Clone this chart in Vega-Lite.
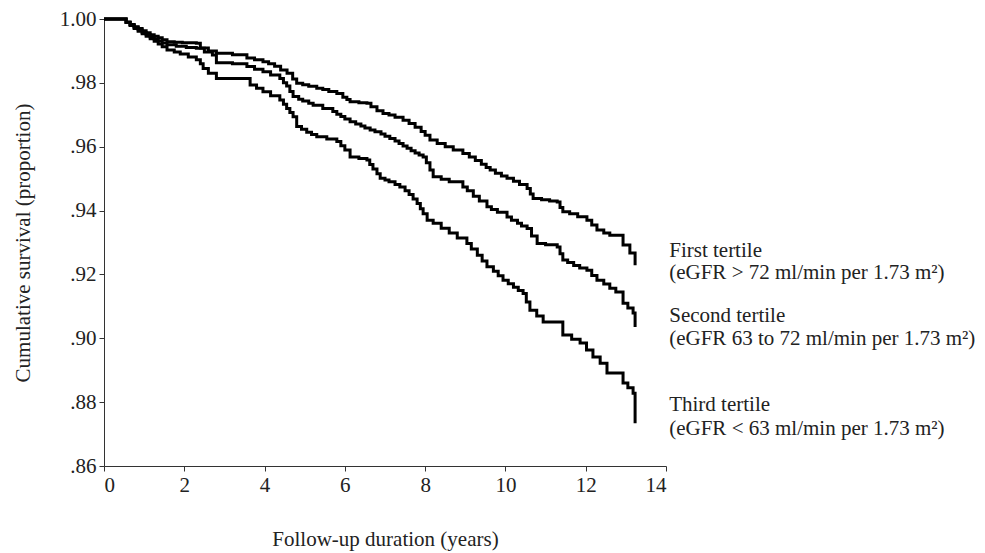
{
  "$schema": "https://vega.github.io/schema/vega-lite/v6.json",
  "autosize": "none",
  "width": 562,
  "height": 447,
  "padding": {"left": 104, "top": 19, "right": 319, "bottom": 87},
  "background": "white",
  "config": {"view": {"stroke": null}, "font": "Liberation Serif"},
  "datasets": {
    "curves": [
      {"t": 0, "s": 1, "g": "First"}, {"t": 0.45, "s": 1, "g": "First"}, {"t": 0.55, "s": 0.999, "g": "First"}, {"t": 0.65, "s": 0.9983, "g": "First"}, {"t": 0.75, "s": 0.9976, "g": "First"}, {"t": 0.85, "s": 0.997, "g": "First"}, {"t": 0.95, "s": 0.9963, "g": "First"}, {"t": 1.05, "s": 0.9957, "g": "First"}, {"t": 1.15, "s": 0.9951, "g": "First"}, {"t": 1.25, "s": 0.9946, "g": "First"}, {"t": 1.35, "s": 0.9941, "g": "First"}, {"t": 1.45, "s": 0.9935, "g": "First"}, {"t": 1.57, "s": 0.9929, "g": "First"}, {"t": 1.75, "s": 0.9927, "g": "First"}, {"t": 1.95, "s": 0.9926, "g": "First"}, {"t": 2.3, "s": 0.9924, "g": "First"}, {"t": 2.4, "s": 0.9909, "g": "First"}, {"t": 2.6, "s": 0.99, "g": "First"}, {"t": 2.8, "s": 0.9893, "g": "First"}, {"t": 3.2, "s": 0.9888, "g": "First"}, {"t": 3.56, "s": 0.9878, "g": "First"}, {"t": 3.75, "s": 0.9872, "g": "First"}, {"t": 3.96, "s": 0.9866, "g": "First"}, {"t": 4.1, "s": 0.986, "g": "First"}, {"t": 4.25, "s": 0.9852, "g": "First"}, {"t": 4.4, "s": 0.984, "g": "First"}, {"t": 4.56, "s": 0.983, "g": "First"}, {"t": 4.7, "s": 0.9812, "g": "First"}, {"t": 4.8, "s": 0.9799, "g": "First"}, {"t": 4.95, "s": 0.9794, "g": "First"}, {"t": 5.1, "s": 0.9789, "g": "First"}, {"t": 5.3, "s": 0.9783, "g": "First"}, {"t": 5.45, "s": 0.9779, "g": "First"}, {"t": 5.6, "s": 0.9773, "g": "First"}, {"t": 5.8, "s": 0.9767, "g": "First"}, {"t": 5.95, "s": 0.9755, "g": "First"}, {"t": 6.05, "s": 0.9748, "g": "First"}, {"t": 6.13, "s": 0.9741, "g": "First"}, {"t": 6.35, "s": 0.9738, "g": "First"}, {"t": 6.55, "s": 0.9736, "g": "First"}, {"t": 6.65, "s": 0.9725, "g": "First"}, {"t": 6.8, "s": 0.9713, "g": "First"}, {"t": 6.95, "s": 0.9704, "g": "First"}, {"t": 7.1, "s": 0.9699, "g": "First"}, {"t": 7.25, "s": 0.9692, "g": "First"}, {"t": 7.45, "s": 0.9683, "g": "First"}, {"t": 7.6, "s": 0.9673, "g": "First"}, {"t": 7.75, "s": 0.9661, "g": "First"}, {"t": 7.9, "s": 0.9648, "g": "First"}, {"t": 8.0, "s": 0.9636, "g": "First"}, {"t": 8.12, "s": 0.9621, "g": "First"}, {"t": 8.3, "s": 0.961, "g": "First"}, {"t": 8.5, "s": 0.96, "g": "First"}, {"t": 8.7, "s": 0.959, "g": "First"}, {"t": 8.94, "s": 0.9579, "g": "First"}, {"t": 9.1, "s": 0.9568, "g": "First"}, {"t": 9.25, "s": 0.9557, "g": "First"}, {"t": 9.4, "s": 0.9545, "g": "First"}, {"t": 9.52, "s": 0.9535, "g": "First"}, {"t": 9.62, "s": 0.9527, "g": "First"}, {"t": 9.75, "s": 0.9517, "g": "First"}, {"t": 9.9, "s": 0.9508, "g": "First"}, {"t": 10.04, "s": 0.9501, "g": "First"}, {"t": 10.2, "s": 0.9492, "g": "First"}, {"t": 10.35, "s": 0.9482, "g": "First"}, {"t": 10.54, "s": 0.9469, "g": "First"}, {"t": 10.62, "s": 0.9452, "g": "First"}, {"t": 10.69, "s": 0.9438, "g": "First"}, {"t": 10.9, "s": 0.9434, "g": "First"}, {"t": 11.1, "s": 0.943, "g": "First"}, {"t": 11.29, "s": 0.9427, "g": "First"}, {"t": 11.36, "s": 0.941, "g": "First"}, {"t": 11.43, "s": 0.9396, "g": "First"}, {"t": 11.6, "s": 0.939, "g": "First"}, {"t": 11.8, "s": 0.9381, "g": "First"}, {"t": 12.03, "s": 0.937, "g": "First"}, {"t": 12.15, "s": 0.9355, "g": "First"}, {"t": 12.28, "s": 0.9339, "g": "First"}, {"t": 12.45, "s": 0.933, "g": "First"}, {"t": 12.6, "s": 0.9323, "g": "First"}, {"t": 12.93, "s": 0.9292, "g": "First"}, {"t": 13.1, "s": 0.9267, "g": "First"}, {"t": 13.23, "s": 0.9229, "g": "First"},
      {"t": 0, "s": 1, "g": "Second"}, {"t": 0.45, "s": 1, "g": "Second"}, {"t": 0.55, "s": 0.999, "g": "Second"}, {"t": 0.65, "s": 0.9982, "g": "Second"}, {"t": 0.75, "s": 0.9974, "g": "Second"}, {"t": 0.85, "s": 0.9966, "g": "Second"}, {"t": 0.95, "s": 0.9958, "g": "Second"}, {"t": 1.05, "s": 0.9951, "g": "Second"}, {"t": 1.15, "s": 0.9944, "g": "Second"}, {"t": 1.25, "s": 0.9937, "g": "Second"}, {"t": 1.35, "s": 0.9931, "g": "Second"}, {"t": 1.45, "s": 0.9925, "g": "Second"}, {"t": 1.57, "s": 0.9919, "g": "Second"}, {"t": 1.8, "s": 0.9915, "g": "Second"}, {"t": 2.05, "s": 0.9911, "g": "Second"}, {"t": 2.3, "s": 0.9908, "g": "Second"}, {"t": 2.5, "s": 0.9897, "g": "Second"}, {"t": 2.7, "s": 0.9887, "g": "Second"}, {"t": 2.8, "s": 0.9863, "g": "Second"}, {"t": 3.2, "s": 0.986, "g": "Second"}, {"t": 3.56, "s": 0.9851, "g": "Second"}, {"t": 3.75, "s": 0.9843, "g": "Second"}, {"t": 3.96, "s": 0.9835, "g": "Second"}, {"t": 4.15, "s": 0.9825, "g": "Second"}, {"t": 4.38, "s": 0.9814, "g": "Second"}, {"t": 4.47, "s": 0.98, "g": "Second"}, {"t": 4.55, "s": 0.979, "g": "Second"}, {"t": 4.63, "s": 0.9773, "g": "Second"}, {"t": 4.71, "s": 0.9757, "g": "Second"}, {"t": 4.85, "s": 0.9749, "g": "Second"}, {"t": 4.95, "s": 0.9743, "g": "Second"}, {"t": 5.1, "s": 0.9736, "g": "Second"}, {"t": 5.21, "s": 0.973, "g": "Second"}, {"t": 5.45, "s": 0.972, "g": "Second"}, {"t": 5.7, "s": 0.971, "g": "Second"}, {"t": 5.8, "s": 0.9702, "g": "Second"}, {"t": 5.9, "s": 0.9695, "g": "Second"}, {"t": 6.0, "s": 0.9687, "g": "Second"}, {"t": 6.13, "s": 0.9678, "g": "Second"}, {"t": 6.27, "s": 0.9671, "g": "Second"}, {"t": 6.4, "s": 0.9665, "g": "Second"}, {"t": 6.5, "s": 0.9659, "g": "Second"}, {"t": 6.63, "s": 0.9652, "g": "Second"}, {"t": 6.75, "s": 0.9647, "g": "Second"}, {"t": 6.9, "s": 0.964, "g": "Second"}, {"t": 7.0, "s": 0.9633, "g": "Second"}, {"t": 7.12, "s": 0.9626, "g": "Second"}, {"t": 7.25, "s": 0.9618, "g": "Second"}, {"t": 7.35, "s": 0.961, "g": "Second"}, {"t": 7.45, "s": 0.9602, "g": "Second"}, {"t": 7.55, "s": 0.9595, "g": "Second"}, {"t": 7.65, "s": 0.9587, "g": "Second"}, {"t": 7.75, "s": 0.958, "g": "Second"}, {"t": 7.85, "s": 0.9574, "g": "Second"}, {"t": 7.95, "s": 0.9568, "g": "Second"}, {"t": 8.03, "s": 0.955, "g": "Second"}, {"t": 8.12, "s": 0.9527, "g": "Second"}, {"t": 8.2, "s": 0.9506, "g": "Second"}, {"t": 8.4, "s": 0.9498, "g": "Second"}, {"t": 8.6, "s": 0.949, "g": "Second"}, {"t": 8.94, "s": 0.9474, "g": "Second"}, {"t": 9.05, "s": 0.9462, "g": "Second"}, {"t": 9.2, "s": 0.9445, "g": "Second"}, {"t": 9.35, "s": 0.943, "g": "Second"}, {"t": 9.54, "s": 0.9412, "g": "Second"}, {"t": 9.65, "s": 0.9403, "g": "Second"}, {"t": 9.8, "s": 0.9395, "g": "Second"}, {"t": 10.04, "s": 0.938, "g": "Second"}, {"t": 10.15, "s": 0.937, "g": "Second"}, {"t": 10.3, "s": 0.936, "g": "Second"}, {"t": 10.4, "s": 0.9352, "g": "Second"}, {"t": 10.54, "s": 0.9344, "g": "Second"}, {"t": 10.65, "s": 0.932, "g": "Second"}, {"t": 10.79, "s": 0.9297, "g": "Second"}, {"t": 11.0, "s": 0.9293, "g": "Second"}, {"t": 11.29, "s": 0.9286, "g": "Second"}, {"t": 11.36, "s": 0.9265, "g": "Second"}, {"t": 11.43, "s": 0.9245, "g": "Second"}, {"t": 11.55, "s": 0.9237, "g": "Second"}, {"t": 11.7, "s": 0.9228, "g": "Second"}, {"t": 11.85, "s": 0.922, "g": "Second"}, {"t": 12.03, "s": 0.9213, "g": "Second"}, {"t": 12.15, "s": 0.9197, "g": "Second"}, {"t": 12.28, "s": 0.9182, "g": "Second"}, {"t": 12.45, "s": 0.917, "g": "Second"}, {"t": 12.6, "s": 0.9157, "g": "Second"}, {"t": 12.75, "s": 0.9145, "g": "Second"}, {"t": 12.93, "s": 0.911, "g": "Second"}, {"t": 13.05, "s": 0.9095, "g": "Second"}, {"t": 13.18, "s": 0.9079, "g": "Second"}, {"t": 13.23, "s": 0.9035, "g": "Second"},
      {"t": 0, "s": 1, "g": "Third"}, {"t": 0.45, "s": 1, "g": "Third"}, {"t": 0.55, "s": 0.999, "g": "Third"}, {"t": 0.65, "s": 0.998, "g": "Third"}, {"t": 0.75, "s": 0.997, "g": "Third"}, {"t": 0.85, "s": 0.9962, "g": "Third"}, {"t": 0.95, "s": 0.9954, "g": "Third"}, {"t": 1.05, "s": 0.9946, "g": "Third"}, {"t": 1.15, "s": 0.9938, "g": "Third"}, {"t": 1.25, "s": 0.993, "g": "Third"}, {"t": 1.35, "s": 0.9922, "g": "Third"}, {"t": 1.45, "s": 0.9913, "g": "Third"}, {"t": 1.57, "s": 0.9903, "g": "Third"}, {"t": 1.75, "s": 0.9897, "g": "Third"}, {"t": 1.9, "s": 0.989, "g": "Third"}, {"t": 2.1, "s": 0.9881, "g": "Third"}, {"t": 2.3, "s": 0.9872, "g": "Third"}, {"t": 2.4, "s": 0.986, "g": "Third"}, {"t": 2.47, "s": 0.9845, "g": "Third"}, {"t": 2.6, "s": 0.983, "g": "Third"}, {"t": 2.8, "s": 0.9814, "g": "Third"}, {"t": 3.5, "s": 0.9814, "g": "Third"}, {"t": 3.64, "s": 0.9793, "g": "Third"}, {"t": 3.8, "s": 0.9783, "g": "Third"}, {"t": 3.96, "s": 0.9772, "g": "Third"}, {"t": 4.15, "s": 0.976, "g": "Third"}, {"t": 4.38, "s": 0.9746, "g": "Third"}, {"t": 4.47, "s": 0.9733, "g": "Third"}, {"t": 4.55, "s": 0.972, "g": "Third"}, {"t": 4.63, "s": 0.9707, "g": "Third"}, {"t": 4.71, "s": 0.9694, "g": "Third"}, {"t": 4.8, "s": 0.9663, "g": "Third"}, {"t": 4.92, "s": 0.9655, "g": "Third"}, {"t": 5.05, "s": 0.9645, "g": "Third"}, {"t": 5.17, "s": 0.9638, "g": "Third"}, {"t": 5.3, "s": 0.9631, "g": "Third"}, {"t": 5.55, "s": 0.9624, "g": "Third"}, {"t": 5.8, "s": 0.9616, "g": "Third"}, {"t": 5.9, "s": 0.9603, "g": "Third"}, {"t": 6.0, "s": 0.959, "g": "Third"}, {"t": 6.13, "s": 0.9568, "g": "Third"}, {"t": 6.35, "s": 0.9563, "g": "Third"}, {"t": 6.55, "s": 0.9558, "g": "Third"}, {"t": 6.62, "s": 0.9544, "g": "Third"}, {"t": 6.7, "s": 0.953, "g": "Third"}, {"t": 6.8, "s": 0.9515, "g": "Third"}, {"t": 6.88, "s": 0.9501, "g": "Third"}, {"t": 7.0, "s": 0.9496, "g": "Third"}, {"t": 7.1, "s": 0.949, "g": "Third"}, {"t": 7.25, "s": 0.9482, "g": "Third"}, {"t": 7.37, "s": 0.9474, "g": "Third"}, {"t": 7.5, "s": 0.9462, "g": "Third"}, {"t": 7.6, "s": 0.945, "g": "Third"}, {"t": 7.7, "s": 0.9436, "g": "Third"}, {"t": 7.8, "s": 0.9422, "g": "Third"}, {"t": 7.88, "s": 0.9406, "g": "Third"}, {"t": 7.95, "s": 0.939, "g": "Third"}, {"t": 8.05, "s": 0.937, "g": "Third"}, {"t": 8.2, "s": 0.936, "g": "Third"}, {"t": 8.4, "s": 0.9345, "g": "Third"}, {"t": 8.6, "s": 0.933, "g": "Third"}, {"t": 8.8, "s": 0.9314, "g": "Third"}, {"t": 9.04, "s": 0.9297, "g": "Third"}, {"t": 9.15, "s": 0.928, "g": "Third"}, {"t": 9.3, "s": 0.926, "g": "Third"}, {"t": 9.42, "s": 0.9242, "g": "Third"}, {"t": 9.54, "s": 0.9224, "g": "Third"}, {"t": 9.7, "s": 0.921, "g": "Third"}, {"t": 9.82, "s": 0.9196, "g": "Third"}, {"t": 9.94, "s": 0.9182, "g": "Third"}, {"t": 10.07, "s": 0.9171, "g": "Third"}, {"t": 10.2, "s": 0.916, "g": "Third"}, {"t": 10.32, "s": 0.915, "g": "Third"}, {"t": 10.44, "s": 0.914, "g": "Third"}, {"t": 10.52, "s": 0.9114, "g": "Third"}, {"t": 10.61, "s": 0.9088, "g": "Third"}, {"t": 10.78, "s": 0.907, "g": "Third"}, {"t": 10.94, "s": 0.9051, "g": "Third"}, {"t": 11.43, "s": 0.901, "g": "Third"}, {"t": 11.65, "s": 0.8997, "g": "Third"}, {"t": 11.86, "s": 0.8985, "g": "Third"}, {"t": 12.02, "s": 0.8963, "g": "Third"}, {"t": 12.18, "s": 0.8941, "g": "Third"}, {"t": 12.36, "s": 0.8922, "g": "Third"}, {"t": 12.53, "s": 0.8891, "g": "Third"}, {"t": 12.93, "s": 0.886, "g": "Third"}, {"t": 13.05, "s": 0.8845, "g": "Third"}, {"t": 13.18, "s": 0.8828, "g": "Third"}, {"t": 13.23, "s": 0.8734, "g": "Third"}
    ],
    "labels": [
      {"t": 14.08, "s": 0.9274, "label": "First tertile"},
      {"t": 14.08, "s": 0.9206, "label": "(eGFR > 72 ml/min per 1.73 m²)"},
      {"t": 14.08, "s": 0.907, "label": "Second tertile"},
      {"t": 14.08, "s": 0.8998, "label": "(eGFR 63 to 72 ml/min per 1.73 m²)"},
      {"t": 14.08, "s": 0.879, "label": "Third tertile"},
      {"t": 14.08, "s": 0.8716, "label": "(eGFR < 63 ml/min per 1.73 m²)"}
    ]
  },
  "layer": [
    {
      "data": {"name": "curves"},
      "mark": {"type": "line", "interpolate": "step-after", "color": "black", "strokeWidth": 3},
      "encoding": {
        "x": {
          "field": "t", "type": "quantitative",
          "scale": {"domain": [0, 14], "nice": false},
          "axis": {
            "values": [0, 2, 4, 6, 8, 10, 12, 14],
            "title": "Follow-up duration (years)",
            "grid": false, "domainColor": "#333", "tickColor": "#333", "tickSize": 5,
            "labelFont": "Liberation Serif", "labelFontSize": 21, "labelColor": "#222", "labelPadding": 3,
            "titleFont": "Liberation Serif", "titleFontSize": 21, "titleFontWeight": "normal", "titleColor": "#222", "titlePadding": 33
          }
        },
        "y": {
          "field": "s", "type": "quantitative",
          "scale": {"domain": [0.86, 1.0], "nice": false, "zero": false},
          "axis": {
            "values": [0.86, 0.88, 0.9, 0.92, 0.94, 0.96, 0.98, 1.0],
            "labelExpr": "datum.value >= 0.999 ? '1.00' : substring(format(datum.value, '.2f'), 1)",
            "title": "Cumulative survival (proportion)",
            "grid": false, "domainColor": "#333", "tickColor": "#333", "tickSize": 5,
            "labelFont": "Liberation Serif", "labelFontSize": 21, "labelColor": "#222", "labelPadding": 3,
            "titleFont": "Liberation Serif", "titleFontSize": 21, "titleFontWeight": "normal", "titleColor": "#222", "titlePadding": 26
          }
        },
        "detail": {"field": "g"}
      }
    },
    {
      "data": {"name": "labels"},
      "mark": {"type": "text", "align": "left", "baseline": "middle", "font": "Liberation Serif", "fontSize": 21, "color": "#222"},
      "encoding": {
        "x": {"field": "t", "type": "quantitative"},
        "y": {"field": "s", "type": "quantitative"},
        "text": {"field": "label"}
      }
    }
  ]
}
